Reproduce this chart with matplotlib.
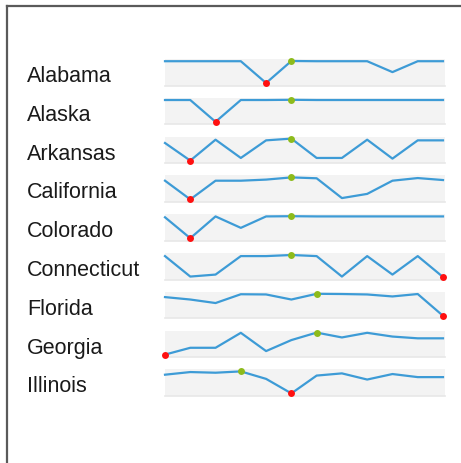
import matplotlib
matplotlib.use("Agg")
import matplotlib.pyplot as plt
from matplotlib.lines import Line2D
import numpy as np

plt.rcParams['font.family'] = ['Liberation Sans', 'DejaVu Sans']

states = ['Alabama', 'Alaska', 'Arkansas', 'California', 'Colorado',
          'Connecticut', 'Florida', 'Georgia', 'Illinois']

alabama = [5.0, 5.0, 5.0, 5.0, 3.0, 5.02, 5.0, 5.0, 5.0, 4.0, 5.0, 5.0]
alaska = [5.0, 5.0, 3.0, 5.0, 5.0, 5.02, 5.0, 5.0, 5.0, 5.0, 5.0, 5.0]
arkansas = [8.0, 0.0, 9.5, 1.2, 9.2, 10.0, 1.2, 1.2, 9.5, 0.9, 9.2, 9.2]
california = [8.5, 0.0, 8.5, 8.5, 9.0, 10.0, 9.6, 0.6, 2.5, 8.5, 9.7, 8.8]
colorado = [9.5, 0.0, 9.9, 4.7, 9.9, 10.0, 9.9, 9.9, 9.9, 9.9, 9.9, 9.9]
connecticut = [9.5, 0.2, 1.1, 9.5, 9.5, 10.0, 9.5, 0.2, 9.5, 1.1, 9.5, 0.0]
florida = [8.5, 7.4, 5.8, 9.8, 9.7, 7.4, 10.0, 9.9, 9.7, 8.8, 9.9, 0.0]
georgia = [0.0, 3.1, 3.1, 9.9, 1.6, 6.6, 10.0, 7.8, 9.9, 8.2, 7.4, 7.4]
illinois = [8.5, 9.7, 9.4, 10.0, 6.6, 0.0, 8.1, 9.1, 6.3, 8.8, 7.4, 7.4]

series = [alabama, alaska, arkansas, california, colorado,
          connecticut, florida, georgia, illinois]

W, H = 461, 464
fig = plt.figure(figsize=(W / 100, H / 100), dpi=100)

# frame (left and top edges only)
fig.lines.append(Line2D([6.5 / W, 6.5 / W], [0, 1 - 6.5 / H], transform=fig.transFigure,
                        color='#5a5a5a', lw=1.6))
fig.lines.append(Line2D([6.5 / W, 1], [1 - 6.5 / H, 1 - 6.5 / H], transform=fig.transFigure,
                        color='#5a5a5a', lw=1.6))

x0, x1 = 165, 443
top0, step, span = 62, 38.8, 22
pad_top, pad_bot = 2.0, 2.5

for i, (name, vals) in enumerate(zip(states, series)):
    vals = np.array(vals)
    top = top0 + step * i
    bottom = top + span
    ax = fig.add_axes([x0 / W, 1 - (bottom + pad_bot) / H,
                       (x1 + 2 - x0) / W, (span + pad_top + pad_bot) / H])
    lo, hi = vals.min(), vals.max()
    r = hi - lo
    ax.set_ylim(lo - r * pad_bot / span, hi + r * pad_top / span)
    ax.set_xlim(0, (len(vals) - 1) * (x1 + 2 - x0) / (x1 - x0))
    ax.set_facecolor('#f3f3f3')
    for s in ['top', 'left', 'right']:
        ax.spines[s].set_visible(False)
    ax.spines['bottom'].set_color('#e8e8e8')
    ax.spines['bottom'].set_linewidth(1.2)
    ax.set_xticks([])
    ax.set_yticks([])
    xs = np.arange(len(vals))
    ax.plot(xs, vals, color='#3d9bd6', lw=1.6, clip_on=False, zorder=2)
    imax = int(np.argmax(vals))
    imin = int(np.argmin(vals))
    ax.plot(xs[imax], vals[imax], 'o', color='#8dbb1c', ms=5, mec='none', clip_on=False, zorder=3)
    ax.plot(xs[imin], vals[imin], 'o', color='#ff1010', ms=5, mec='none', clip_on=False, zorder=3)

    fig.text(27 / W, 1 - (top + 14.5) / H, name, fontsize=15.5, color='#1a1a1a',
             ha='left', va='center')

fig.savefig('out.png', dpi=100, facecolor='white')
